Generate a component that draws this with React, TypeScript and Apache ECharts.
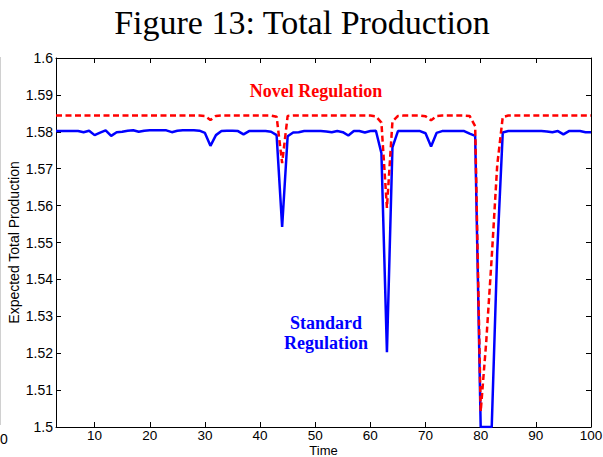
import React, { useEffect, useRef } from 'react';
import * as echarts from 'echarts';

// Time steps shown on the x axis (3 .. 100)
const TIME: number[] = Array.from({ length: 98 }, (_, i) => i + 3);

// Expected total production, standard regulation (blue, solid), t = 3..100
const STANDARD: number[] = [
  1.5802, 1.5802, 1.5802, 1.5802, 1.5802, 1.5799, 1.5803, 1.5791, 1.5798, 1.5804,
  1.5789, 1.5799, 1.5800, 1.5803, 1.5804, 1.5800, 1.5803, 1.5804, 1.5804, 1.5804,
  1.5804, 1.5799, 1.5803, 1.5804, 1.5804, 1.5804, 1.5803, 1.5797, 1.5762, 1.5791,
  1.5802, 1.5803, 1.5803, 1.5802, 1.5793, 1.5802, 1.5802, 1.5802, 1.5802, 1.5800,
  1.5791, 1.5542, 1.5788, 1.5798, 1.5799, 1.5802, 1.5802, 1.5802, 1.5802, 1.5801,
  1.5799, 1.5802, 1.5799, 1.5790, 1.5802, 1.5802, 1.5798, 1.5802, 1.5803, 1.5742,
  1.5203, 1.5758, 1.5802, 1.5802, 1.5802, 1.5802, 1.5802, 1.5796, 1.5760, 1.5797,
  1.5802, 1.5802, 1.5802, 1.5802, 1.5802, 1.5795, 1.5789, 1.5000, 1.5000, 1.5000,
  1.5476, 1.5798, 1.5802, 1.5802, 1.5802, 1.5802, 1.5802, 1.5802, 1.5802, 1.5801,
  1.5799, 1.5802, 1.5793, 1.5802, 1.5802, 1.5802, 1.5799, 1.5799,
];

// Expected total production, novel regulation (red, dashed), t = 3..100
const NOVEL: number[] = [
  1.5844, 1.5844, 1.5844, 1.5844, 1.5844, 1.5844, 1.5844, 1.5844, 1.5844, 1.5844,
  1.5844, 1.5844, 1.5844, 1.5844, 1.5844, 1.5844, 1.5844, 1.5844, 1.5844, 1.5844,
  1.5844, 1.5844, 1.5844, 1.5844, 1.5844, 1.5844, 1.5844, 1.5843, 1.5832, 1.5843,
  1.5844, 1.5844, 1.5844, 1.5844, 1.5844, 1.5844, 1.5844, 1.5844, 1.5844, 1.5844,
  1.5841, 1.5715, 1.5843, 1.5844, 1.5844, 1.5844, 1.5844, 1.5844, 1.5844, 1.5844,
  1.5844, 1.5844, 1.5844, 1.5844, 1.5844, 1.5844, 1.5844, 1.5844, 1.5842, 1.5825,
  1.5594, 1.5828, 1.5843, 1.5844, 1.5844, 1.5844, 1.5844, 1.5842, 1.5831, 1.5843,
  1.5844, 1.5844, 1.5844, 1.5844, 1.5844, 1.5843, 1.5815, 1.5042, 1.5230, 1.5460,
  1.5710, 1.5840, 1.5844, 1.5844, 1.5844, 1.5844, 1.5844, 1.5844, 1.5844, 1.5844,
  1.5844, 1.5844, 1.5844, 1.5844, 1.5844, 1.5844, 1.5844, 1.5844,
];

const X_TICKS: number[] = [10, 20, 30, 40, 50, 60, 70, 80, 90, 100];
const X_MIN = 3;
const X_MAX = 100;
const Y_MIN = 1.5;
const Y_MAX = 1.6;
const Y_STEP = 0.01;

const TITLE = 'Figure 13: Total Production';
const X_NAME = 'Time';
const Y_NAME = 'Expected Total Production';
const NOVEL_LABEL = 'Novel Regulation';
const STANDARD_LABEL = ['Standard', 'Regulation'];

export default function App() {
  const ref = useRef<HTMLDivElement>(null);

  useEffect(() => {
    if (!ref.current) return;
    const chart = echarts.init(ref.current, undefined, { renderer: 'svg' });
    const black = { color: '#000', width: 1 };
    const sans = 'Liberation Sans, Arial, Helvetica, sans-serif';
    const serif = 'Liberation Serif, Times New Roman, serif';

    const option: any = {
      animation: false,
      backgroundColor: '#ffffff',
      grid: {
        left: 56,
        right: 12,
        top: 58,
        bottom: 30,
        containLabel: false,
        outerBoundsMode: 'none',
      },
      xAxis: [
        {
          type: 'value',
          position: 'bottom',
          min: X_MIN,
          max: X_MAX,
          axisLine: { show: true, onZero: false, lineStyle: black },
          axisTick: { show: true, inside: true, length: 5, customValues: X_TICKS, lineStyle: black },
          axisLabel: {
            customValues: X_TICKS,
            color: '#000',
            fontFamily: sans,
            fontSize: 13.5,
            lineHeight: 13,
            margin: 2,
          },
          splitLine: { show: false },
          name: X_NAME,
          nameLocation: 'middle',
          nameGap: 17,
          nameMoveOverlap: false,
          nameTextStyle: { color: '#000', fontFamily: sans, fontSize: 13, lineHeight: 12 },
        },
        {
          type: 'value',
          position: 'top',
          min: X_MIN,
          max: X_MAX,
          axisLine: { show: true, onZero: false, lineStyle: black },
          axisTick: { show: true, inside: true, length: 5, customValues: X_TICKS, lineStyle: black },
          axisLabel: { show: false },
          splitLine: { show: false },
        },
      ],
      yAxis: [
        {
          type: 'value',
          position: 'left',
          min: Y_MIN,
          max: Y_MAX,
          interval: Y_STEP,
          axisLine: { show: true, onZero: false, lineStyle: black },
          axisTick: { show: true, inside: true, length: 5, lineStyle: black },
          axisLabel: {
            color: '#000',
            fontFamily: sans,
            fontSize: 14,
            margin: 3,
            formatter: (v: number) => String(Math.round(v * 100) / 100),
          },
          splitLine: { show: false },
          name: Y_NAME,
          nameLocation: 'middle',
          nameGap: 35,
          nameMoveOverlap: false,
          nameTextStyle: { color: '#000', fontFamily: sans, fontSize: 14 },
        },
        {
          type: 'value',
          position: 'right',
          min: Y_MIN,
          max: Y_MAX,
          interval: Y_STEP,
          axisLine: { show: true, onZero: false, lineStyle: black },
          axisTick: { show: true, inside: true, length: 5, lineStyle: black },
          axisLabel: { show: false },
          splitLine: { show: false },
        },
      ],
      series: [
        {
          name: 'Standard Regulation',
          type: 'line',
          xAxisIndex: 0,
          yAxisIndex: 0,
          data: TIME.map((t, i) => [t, STANDARD[i]]),
          showSymbol: false,
          symbol: 'none',
          clip: true,
          lineStyle: { color: '#0000ff', width: 2.5 },
          itemStyle: { color: '#0000ff' },
          z: 2,
        },
        {
          name: 'Novel Regulation',
          type: 'line',
          xAxisIndex: 0,
          yAxisIndex: 0,
          data: TIME.map((t, i) => [t, NOVEL[i]]),
          showSymbol: false,
          symbol: 'none',
          clip: true,
          lineStyle: { color: '#ff0000', width: 2.5, type: [6, 3.5] },
          itemStyle: { color: '#ff0000' },
          z: 3,
        },
      ],
      graphic: [
        {
          type: 'text',
          x: 302,
          y: 22,
          style: {
            text: TITLE,
            fill: '#000',
            font: `normal 34px ${serif}`,
            textAlign: 'center',
            textVerticalAlign: 'middle',
          },
        },
        {
          type: 'text',
          x: 316,
          y: 91,
          style: {
            text: NOVEL_LABEL,
            fill: '#ff0000',
            font: `bold 18px ${serif}`,
            textAlign: 'center',
            textVerticalAlign: 'middle',
          },
        },
        {
          type: 'text',
          x: 326,
          y: 323,
          style: {
            text: STANDARD_LABEL[0],
            fill: '#0000ff',
            font: `bold 18px ${serif}`,
            textAlign: 'center',
            textVerticalAlign: 'middle',
          },
        },
        {
          type: 'text',
          x: 326,
          y: 343,
          style: {
            text: STANDARD_LABEL[1],
            fill: '#0000ff',
            font: `bold 18px ${serif}`,
            textAlign: 'center',
            textVerticalAlign: 'middle',
          },
        },
        {
          type: 'line',
          shape: { x1: 0.5, y1: 57, x2: 0.5, y2: 425 },
          style: { stroke: '#d0d0d0', lineWidth: 1 },
        },
        {
          type: 'text',
          x: 0,
          y: 439,
          style: {
            text: '0',
            fill: '#000',
            font: `14px ${sans}`,
            textAlign: 'left',
            textVerticalAlign: 'middle',
          },
        },
      ],
    };

    chart.setOption(option);
    return () => {
      chart.dispose();
    };
  }, []);

  return (
    <div
      ref={ref}
      style={{ position: 'absolute', left: 0, top: 0, width: 603, height: 457, background: '#fff' }}
    />
  );
}
